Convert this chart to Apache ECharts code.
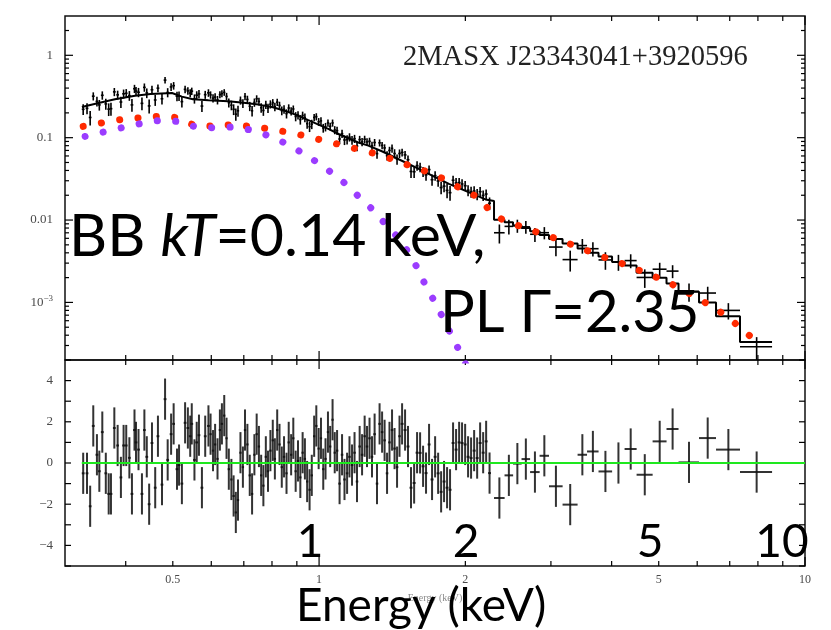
<!DOCTYPE html>
<html>
<head>
<meta charset="utf-8">
<script src="https://cdn.jsdelivr.net/npm/echarts@6/dist/echarts.min.js"></script>
<style>
html,body{margin:0;padding:0;background:#fff;}
#chart{width:831px;height:630px;}
</style>
</head>
<body>
<div id="chart"></div>
<script>
// ---- axis ranges ----
const X_MIN = 0.3, X_MAX = 10;
const Y_MIN = 2e-4, Y_MAX = 3;
const R_MIN = -5, R_MAX = 5;

// ---- binned spectrum (keV, counts s^-1 keV^-1) ----
const energy = [
  0.327,0.333,0.338,0.343,0.349,0.353,0.358,0.364,0.369,0.373,0.379,0.385,0.391,0.396,0.401,0.407,0.412,0.417,0.420,0.425,0.432,0.437,0.442,0.447,0.453,0.460,0.466,0.475,0.482,0.488,0.496,0.502,0.510,0.515,0.522,0.530,0.537,0.543,0.547,0.554,0.560,0.566,0.574,0.583,0.592,
  0.598,0.605,0.611,0.618,0.625,0.631,0.638,0.645,0.652,0.660,0.667,0.674,0.681,0.689,0.697,0.704,0.712,0.720,0.728,0.736,0.744,0.752,0.760,0.768,0.777,0.785,0.794,0.803,0.811,0.820,0.829,0.838,0.847,0.857,0.866,0.876,0.885,0.895,0.905,0.915,0.925,0.935,0.945,0.956,0.966,0.977,0.987,0.998,1.009,1.020,1.031,1.043,1.054,1.066,1.077,
  1.089,1.102,1.115,1.128,1.142,1.155,1.169,1.183,1.197,1.212,1.226,1.241,1.255,1.270,1.285,1.301,1.316,1.332,1.348,1.364,1.380,1.396,1.413,1.430,1.447,1.464,
  1.482,1.503,1.524,1.546,1.569,1.591,1.614,1.637,1.660,1.684,1.708,1.733,1.758,1.783,1.808,1.834,1.860,1.887,1.914,1.942,1.969,1.998,2.026,2.055,2.085,2.115,2.145,2.176,2.207,2.243,
  2.350,2.458,2.559,2.664,2.781,2.908,3.072,3.287,3.482,3.660,3.884,4.131,4.378,4.680,5.023,5.340,5.772,6.306,6.955,7.952
];
const energyHalf = [
  0.0022,0.0022,0.0022,0.0023,0.0023,0.0023,0.0024,0.0024,0.0024,0.0025,0.0025,0.0025,0.0026,0.0026,0.0026,0.0027,0.0027,0.0028,0.0028,0.0028,0.0029,0.0029,0.0029,0.0030,0.0030,0.0030,0.0031,0.0031,0.0032,0.0032,0.0033,0.0033,0.0034,0.0034,0.0034,0.0035,0.0035,0.0036,0.0036,0.0037,0.0037,0.0037,0.0038,0.0038,0.0039,
  0.0033,0.0033,0.0034,0.0034,0.0034,0.0035,0.0035,0.0035,0.0036,0.0036,0.0037,0.0037,0.0037,0.0038,0.0038,0.0039,0.0039,0.0040,0.0040,0.0040,0.0041,0.0041,0.0042,0.0042,0.0043,0.0043,0.0044,0.0044,0.0045,0.0045,0.0046,0.0046,0.0047,0.0047,0.0048,0.0048,0.0049,0.0049,0.0050,0.0050,0.0051,0.0051,0.0052,0.0053,0.0053,0.0054,0.0054,0.0055,0.0055,0.0056,0.0057,0.0057,0.0058,0.0059,0.0059,
  0.0065,0.0066,0.0067,0.0068,0.0069,0.0069,0.0070,0.0071,0.0072,0.0073,0.0074,0.0074,0.0075,0.0076,0.0077,0.0078,0.0079,0.0080,0.0081,0.0082,0.0083,0.0084,0.0085,0.0086,0.0087,0.0088,
  0.0104,0.0105,0.0107,0.0108,0.0110,0.0111,0.0113,0.0115,0.0116,0.0118,0.0120,0.0121,0.0123,0.0125,0.0127,0.0128,0.0130,0.0132,0.0134,0.0136,0.0138,0.0140,0.0142,0.0144,0.0146,0.0148,0.0150,0.0152,0.0154,0.0157,
  0.059,0.050,0.052,0.054,0.063,0.065,0.099,0.117,0.078,0.100,0.125,0.123,0.125,0.178,0.166,0.152,0.280,0.254,0.395,0.603
];
const flux = [
  0.221,0.227,0.176,0.319,0.276,0.250,0.327,0.257,0.222,0.225,0.360,0.331,0.271,0.341,0.346,0.324,0.250,0.393,0.368,0.356,0.261,0.408,0.349,0.243,0.382,0.287,0.399,0.297,0.500,0.354,0.413,0.428,0.319,0.321,0.274,0.386,0.370,0.348,0.367,0.297,0.328,0.340,0.242,0.333,0.350,
  0.331,0.302,0.311,0.287,0.333,0.343,0.355,0.317,0.266,0.248,0.221,0.193,0.212,0.284,0.261,0.316,0.291,0.241,0.212,0.268,0.297,0.275,0.231,0.214,0.252,0.229,0.255,0.266,0.237,0.270,0.246,0.213,0.221,0.196,0.229,0.210,0.223,0.181,0.188,0.166,0.186,0.175,0.148,0.136,0.146,0.176,0.180,0.156,0.160,0.131,0.135,0.151,0.137,0.151,0.124,
  0.1217,0.0964,0.1118,0.0938,0.0948,0.1014,0.0937,0.0972,0.0791,0.0948,0.0888,0.0957,0.0888,0.0904,0.0798,0.0874,0.0640,0.0866,0.0806,0.0751,0.0605,0.0700,0.0741,0.0642,0.0548,0.0643,
  0.0662,0.0618,0.0540,0.0389,0.0386,0.0458,0.0439,0.0387,0.0354,0.0410,0.0309,0.0346,0.0298,0.0248,0.0258,0.0229,0.0215,0.0304,0.0282,0.0285,0.0274,0.0261,0.0230,0.0220,0.0225,0.0206,0.0221,0.0199,0.0207,0.0160,
  0.00701,0.00838,0.00855,0.00827,0.00672,0.00702,0.00470,0.00331,0.00490,0.00449,0.00328,0.00310,0.00322,0.00201,0.00253,0.00240,0.00136,0.00130,0.00080,0.00029
];
const fluxErr = [
  0.033,0.034,0.035,0.036,0.037,0.037,0.038,0.039,0.039,0.040,0.041,0.041,0.042,0.043,0.043,0.044,0.044,0.045,0.045,0.046,0.046,0.047,0.047,0.047,0.044,0.044,0.044,0.045,0.045,0.045,0.045,0.045,0.043,0.042,0.041,0.040,0.039,0.039,0.038,0.038,0.038,0.038,0.037,0.037,0.037,
  0.034,0.034,0.034,0.034,0.033,0.033,0.033,0.033,0.033,0.033,0.033,0.033,0.032,0.032,0.032,0.032,0.032,0.031,0.031,0.031,0.030,0.030,0.030,0.030,0.029,0.029,0.029,0.028,0.028,0.027,0.027,0.026,0.026,0.025,0.025,0.024,0.023,0.023,0.022,0.022,0.021,0.021,0.020,0.019,0.019,0.018,0.018,0.017,0.017,0.016,0.016,0.015,0.015,0.015,0.014,
  0.0136,0.0132,0.0128,0.0125,0.0121,0.0117,0.0114,0.0110,0.0106,0.0104,0.0102,0.0099,0.0097,0.0095,0.0092,0.0090,0.0087,0.0085,0.0082,0.0080,0.0077,0.0075,0.0085,0.0082,0.0079,0.0076,
  0.0073,0.0071,0.0068,0.0065,0.0063,0.0060,0.0058,0.0055,0.0053,0.0051,0.0049,0.0046,0.0045,0.0043,0.0041,0.0045,0.0044,0.0042,0.0041,0.0039,0.0038,0.0036,0.0035,0.0034,0.0033,0.0032,0.0031,0.0029,0.0028,0.0028,
  0.00182,0.00169,0.00155,0.00144,0.00131,0.00119,0.00106,0.00094,0.00099,0.00088,0.00079,0.00068,0.00062,0.00051,0.00050,0.00043,0.00034,0.00025,0.00018,0.000089
];
// residuals in units of sigma
const resid = [
  -0.5,-0.5,-2.1,1.8,0.4,-0.4,1.5,-0.5,-1.5,-1.5,1.7,0.85,-0.7,0.85,0.85,0.25,-1.5,1.6,1.0,0.65,-1.5,1.6,0.3,-2.0,0.97,-1.2,1.3,-1.05,3.1,0.15,1.4,1.9,-0.3,-0.1,-1.0,1.95,1.7,1.3,1.9,0.15,1.0,1.35,-1.2,1.3,1.8,
  1.4,0.6,0.9,0.2,1.6,1.9,2.3,1.2,-0.3,-0.8,-1.6,-2.4,-1.8,0.5,-0.2,1.6,0.9,-0.6,-1.5,0.4,1.4,0.8,-0.6,-1.1,0.3,-0.4,0.6,1.1,0.2,1.6,0.9,-0.2,0.3,-0.5,1.0,0.4,1.2,-0.4,0.1,-0.7,0.5,0.2,-0.9,-1.3,-0.6,1.3,1.8,0.7,1.2,-0.3,0.2,1.5,0.8,2.1,0.5,
  0.6,-1.0,0.4,-0.8,-0.5,0.3,-0.1,0.5,-0.9,0.8,0.4,1.3,0.8,1.2,0.3,1.4,-1.0,1.9,1.5,1.1,-0.5,1.0,1.6,0.7,-0.2,1.3,
  1.9,1.6,0.8,-1.2,-0.97,0.5,0.49,-0.16,-0.49,0.9,-0.8,0.3,-0.5,-1.4,-0.9,-1.2,-1.3,0.97,0.65,1.0,0.97,0.9,0.3,0.24,0.6,0.24,0.97,0.5,1.05,-0.49,
  -1.70,-0.60,-0.03,0.19,-0.44,0.35,-1.13,-2.02,0.40,0.56,-0.41,0.00,0.68,-0.57,1.05,1.65,0.03,1.21,0.65,-0.44
];

// ---- total model: smooth part, then histogram over the wide bins ----
const modelE = [0.325,0.35,0.38,0.418,0.45,0.498,0.522,0.55,0.592,0.65,0.70,0.75,0.80,0.85,0.90,0.95,1.00,1.05,1.10,1.20,1.263,1.35,1.48,1.60,1.733,1.85,2.03,2.20,2.291];
const modelF = [0.236,0.262,0.292,0.322,0.338,0.349,0.315,0.292,0.284,0.276,0.266,0.252,0.236,0.212,0.188,0.163,0.143,0.126,0.110,0.088,0.080,0.068,0.0525,0.042,0.0332,0.0275,0.0218,0.0178,0.0170];
const stepEdges = [2.291,2.408,2.507,2.610,2.718,2.843,2.973,3.170,3.404,3.560,3.759,4.008,4.253,4.502,4.857,5.188,5.492,6.052,6.560,7.349,8.554];
const stepFlux = [0.0101,0.0094,0.0086,0.0080,0.0073,0.0066,0.0059,0.0052,0.0045,0.0040,0.0036,0.0031,0.0028,0.0023,0.0020,0.0017,0.00135,0.00100,0.00068,0.00033];

// ---- power-law component ----
const plE = [0.327,0.359,0.392,0.428,0.467,0.510,0.551,0.603,0.659,0.721,0.787,0.858,0.933,1.018,1.108,1.209,1.314,1.434,1.553,1.692,1.831,1.972,2.137,2.256,2.426,2.633,2.872,3.122,3.390,3.668,3.983,4.329,4.701,5.110,5.532,5.939,6.427,6.953,7.411,7.931];
const plF = [0.137,0.152,0.1665,0.1746,0.181,0.1746,0.1435,0.138,0.1435,0.137,0.128,0.117,0.1055,0.0925,0.082,0.0718,0.0632,0.0534,0.0446,0.0374,0.0302,0.0234,0.0184,0.01265,0.00956,0.00818,0.00678,0.00578,0.00475,0.00398,0.0033,0.00279,0.00227,0.00187,0.00148,0.00117,0.000894,0.000657,0.000473,0.000341];

// ---- blackbody component ----
const bbE = [0.330,0.360,0.393,0.428,0.467,0.510,0.554,0.603,0.659,0.719,0.783,0.848,0.918,0.989,1.062,1.140,1.214,1.290,1.363,1.445,1.517,1.588,1.666,1.733,1.803,1.875,1.944,2.010];
const bbF = [0.1035,0.117,0.132,0.1476,0.1606,0.1574,0.1368,0.132,0.1346,0.1247,0.1064,0.0867,0.0668,0.0505,0.0374,0.0267,0.0186,0.01327,0.00923,0.00635,0.0043,0.0027,0.0015,0.0010,0.000627,0.000393,0.000258,0.00017];

// ---- tick definitions ----
const xTickLabels = [0.5, 1, 2, 5, 10];
const xMajorTicks = [1, 10];
const xMinorTicks = [0.4,0.5,0.6,0.7,0.8,0.9,2,3,4,5,6,7,8,9];
const yDecades = [-4,-3,-2,-1,0];
const yMinorMantissa = [2,3,4,5,6,7,8,9];
const residTicks = [-5,-4,-3,-2,-1,0,1,2,3,4,5];

const sourceName = '2MASX J23343041+3920596';

// ---------------------------------------------------------------
const LX0 = Math.log10(X_MIN), LX1 = Math.log10(X_MAX);
const LY0 = Math.log10(Y_MIN), LY1 = Math.log10(Y_MAX);
const lg = v => Math.log10(v);

const yMajorVals = yDecades.map(d => Math.pow(10, d)).filter(v => v >= Y_MIN && v <= Y_MAX);
const yMinorVals = [];
yDecades.forEach(d => yMinorMantissa.forEach(m => {
  const v = m * Math.pow(10, d);
  if (v > Y_MIN && v < Y_MAX) yMinorVals.push(v);
}));

const labelFont = 'Liberation Serif';
const labelColor = '#4a4a4a';
const hiddenLine = { show: false, onZero: false };

// label-only helper axes, laid out in log10 units over the same grid
function xLabelAxis(grid, labels) {
  return {
    type: 'value', gridIndex: grid, position: 'bottom', min: LX0, max: LX1,
    axisLine: hiddenLine, splitLine: { show: false }, axisTick: { show: false },
    axisLabel: {
      show: true, customValues: labels.map(lg), margin: 8,
      fontFamily: labelFont, fontSize: 12, color: labelColor,
      formatter: v => String(Math.round(Math.pow(10, v) * 10) / 10)
    }
  };
}
function yLabelAxis(grid) {
  return {
    type: 'value', gridIndex: grid, position: 'left', min: LY0, max: LY1,
    axisLine: hiddenLine, splitLine: { show: false }, axisTick: { show: false },
    axisLabel: {
      show: true, customValues: yMajorVals.map(lg), margin: 12,
      fontFamily: labelFont, fontSize: 13, color: labelColor,
      formatter: v => {
        const p = Math.round(v);
        if (p >= -2) return String(Math.pow(10, p));
        return '{m|10}{s|\u2212' + (-p) + '}';
      },
      rich: {
        m: { fontFamily: labelFont, fontSize: 13, color: labelColor },
        s: { fontFamily: labelFont, fontSize: 9, color: labelColor, padding: [0, 0, 7, 0] }
      }
    }
  };
}

// inward frame ticks of one panel, located through the panel's own scales
function frameSegments(yLo, yHi, yMajor, yMinor, majorLen, minorLen) {
  return function (coord) {
    const segs = [];
    const tl = coord([X_MIN, yHi]), br = coord([X_MAX, yLo]);
    const L = tl[0], T = tl[1], Rt = br[0], B = br[1];
    const add = (x1, y1, x2, y2) => segs.push({ x1: x1, y1: y1, x2: x2, y2: y2 });
    xMajorTicks.forEach(e => { const x = coord([e, yLo])[0]; add(x, T, x, T + 9); add(x, B, x, B - 9); });
    xMinorTicks.forEach(e => { const x = coord([e, yLo])[0]; add(x, T, x, T + 5); add(x, B, x, B - 5); });
    yMajor.forEach(v => { const y = coord([X_MIN, v])[1]; add(L, y, L + majorLen, y); add(Rt, y, Rt - majorLen, y); });
    yMinor.forEach(v => { const y = coord([X_MIN, v])[1]; add(L, y, L + minorLen, y); add(Rt, y, Rt - minorLen, y); });
    return segs;
  };
}
const specFrame = frameSegments(Y_MIN, Y_MAX, yMajorVals, yMinorVals, 8, 4);
const residFrame = frameSegments(R_MIN, R_MAX, residTicks, [], 6, 6);

// error-bar crosses; the first item of each panel also carries the frame ticks
function crossRenderer(lineW, color, frame) {
  return function (params, api) {
    const e = api.value(0), h = api.value(1), v = api.value(2), d = api.value(3);
    const a = api.coord([e, v + d]), b = api.coord([e, v - d]);
    const l = api.coord([e - h, v]), r = api.coord([e + h, v]);
    const st = { stroke: color, lineWidth: lineW };
    const children = [
      { type: 'line', shape: { x1: a[0], y1: a[1], x2: b[0], y2: b[1] }, style: st },
      { type: 'line', shape: { x1: l[0], y1: l[1], x2: r[0], y2: r[1] }, style: st }
    ];
    if (frame && params.dataIndex === 0) {
      try {
        frame(p => api.coord(p)).forEach(s => children.push({
          type: 'line', shape: s, style: { stroke: '#000', lineWidth: 1.2 } }));
      } catch (err) { /* ticks are decoration only */ }
    }
    return { type: 'group', children: children };
  };
}

const specData = energy.map((e, i) => [e, energyHalf[i], flux[i], fluxErr[i]]);
const residData = energy.map((e, i) => [e, energyHalf[i], resid[i], 1]);

const modelLine = modelE.map((e, i) => [e, modelF[i]]);
stepFlux.forEach((f, i) => { modelLine.push([stepEdges[i], f]); modelLine.push([stepEdges[i + 1], f]); });

const plLine = plE.map((e, i) => [e, plF[i]]);
const bbLine = bbE.map((e, i) => [e, bbF[i]]);

// overlay annotations
const textEls = [
  { type: 'text', x: 403, y: 58, z: 10, style: { text: sourceName, fontFamily: labelFont, fontSize: 28.5, fill: '#222', align: 'left', verticalAlign: 'middle' } },
  { type: 'text', x: 435, y: 598, z: 9, style: { text: 'Energy (keV)', fontFamily: labelFont, fontSize: 10, fill: '#888', align: 'center', verticalAlign: 'middle' } },
  { type: 'text', x: 69, y: 237, z: 10, style: {
      text: 'BB {i|kT}=0.14 keV,', fontFamily: 'Lato', fontSize: 59, fill: '#000', align: 'left', verticalAlign: 'middle',
      rich: { i: { fontFamily: 'Lato', fontSize: 59, fontStyle: 'italic', fill: '#000' } } } },
  { type: 'text', x: 440, y: 313, z: 10, style: { text: 'PL \u0393=2.35', fontFamily: 'Lato', fontSize: 58, fill: '#000', align: 'left', verticalAlign: 'middle' } },
  { type: 'text', x: 310, y: 542, z: 10, style: { text: '1', fontFamily: 'Lato', fontSize: 46, fill: '#000', align: 'center', verticalAlign: 'middle' } },
  { type: 'text', x: 466, y: 542, z: 10, style: { text: '2', fontFamily: 'Lato', fontSize: 46, fill: '#000', align: 'center', verticalAlign: 'middle' } },
  { type: 'text', x: 650, y: 542, z: 10, style: { text: '5', fontFamily: 'Lato', fontSize: 46, fill: '#000', align: 'center', verticalAlign: 'middle' } },
  { type: 'text', x: 782, y: 542, z: 10, style: { text: '10', fontFamily: 'Lato', fontSize: 46, fill: '#000', align: 'center', verticalAlign: 'middle' } },
  { type: 'text', x: 296, y: 606, z: 10, style: { text: 'Energy (keV)', fontFamily: 'Lato', fontSize: 46, fill: '#000', align: 'left', verticalAlign: 'middle' } }
];

const GL = 65, GW = 740;
const option = {
  animation: false,
  backgroundColor: '#ffffff',
  grid: [
    { left: GL, top: 16, width: GW, height: 344, show: true, borderColor: '#111', borderWidth: 1.5, backgroundColor: 'transparent', outerBoundsMode: 'none' },
    { left: GL, top: 360, width: GW, height: 206, show: true, borderColor: '#111', borderWidth: 1.5, backgroundColor: 'transparent', outerBoundsMode: 'none' }
  ],
  xAxis: [
    { type: 'log', logBase: 10, gridIndex: 0, min: X_MIN, max: X_MAX, show: false, axisLine: hiddenLine },
    { type: 'log', logBase: 10, gridIndex: 1, min: X_MIN, max: X_MAX, show: false, axisLine: hiddenLine },
    xLabelAxis(1, xTickLabels)
  ],
  yAxis: [
    { type: 'log', logBase: 10, gridIndex: 0, min: Y_MIN, max: Y_MAX, show: false, axisLine: hiddenLine },
    {
      type: 'value', gridIndex: 1, min: R_MIN, max: R_MAX, interval: 1, position: 'left',
      axisLine: hiddenLine, splitLine: { show: false }, axisTick: { show: false },
      axisLabel: { show: true, margin: 12, fontFamily: labelFont, fontSize: 13, color: labelColor,
        formatter: v => (Math.abs(v) % 2 === 0 && Math.abs(v) < 5) ? (v < 0 ? '\u2212' + (-v) : String(v)) : '' }
    },
    yLabelAxis(0)
  ],
  series: [
    { type: 'custom', name: 'data', xAxisIndex: 0, yAxisIndex: 0, clip: false,
      encode: { x: 0, y: 2 }, data: specData, renderItem: crossRenderer(1.6, '#000', specFrame), z: 2 },
    { type: 'line', name: 'model', xAxisIndex: 0, yAxisIndex: 0, data: modelLine, symbol: 'none',
      lineStyle: { color: '#000', width: 2 }, z: 3 },
    { type: 'line', name: 'powerlaw', xAxisIndex: 0, yAxisIndex: 0, data: plLine, symbol: 'none', smooth: 0.2,
      lineStyle: { color: '#ff2a00', width: 7, type: [0.1, 18.3], cap: 'round' }, z: 4 },
    { type: 'line', name: 'blackbody', xAxisIndex: 0, yAxisIndex: 0, data: bbLine, symbol: 'none', smooth: 0.2, clip: true,
      lineStyle: { color: '#9b3cff', width: 7, type: [0.1, 18.3], cap: 'round' }, z: 4 },
    { type: 'custom', name: 'residuals', xAxisIndex: 1, yAxisIndex: 1, clip: false,
      encode: { x: 0, y: 2 }, data: residData, renderItem: crossRenderer(2, 'rgba(15,15,15,0.85)', residFrame), z: 2 },
    { type: 'line', name: 'zero', xAxisIndex: 1, yAxisIndex: 1, data: [[0.3248, 0], [X_MAX, 0]], symbol: 'none',
      lineStyle: { color: '#1ee81e', width: 2 }, z: 5 }
  ],
  graphic: textEls
};

const chart = echarts.init(document.getElementById('chart'), null, { renderer: 'canvas' });
chart.setOption(option);
</script>
</body>
</html>
